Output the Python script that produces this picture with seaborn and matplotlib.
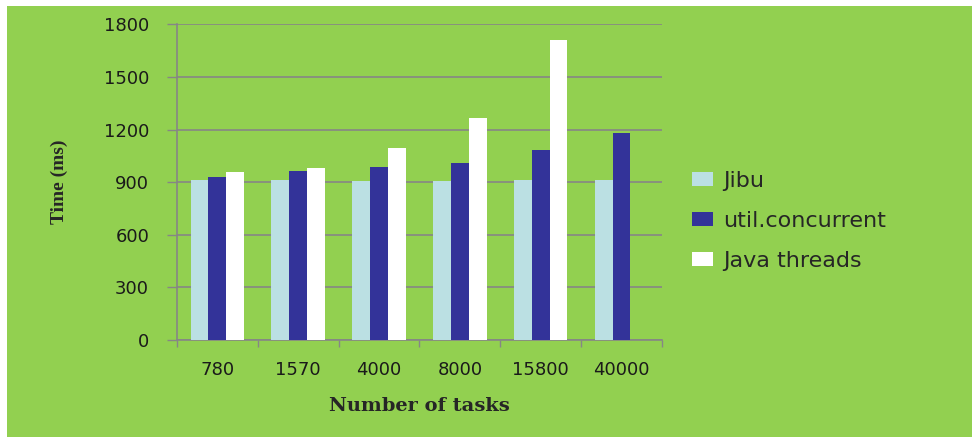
import numpy as np
import pandas as pd
import matplotlib
matplotlib.use("Agg")
import matplotlib.pyplot as plt
import seaborn as sns
from matplotlib.patches import Rectangle

tasks = ["780", "1570", "4000", "8000", "15800", "40000"]
jibu = [910, 910, 905, 905, 914, 914]
util_concurrent = [931, 962, 989, 1011, 1082, 1183]
java_threads = [956, 981, 1093, 1269, 1712, np.nan]

series = ["Jibu", "util.concurrent", "Java threads"]
colors = ["#BBE0E3", "#333399", "#FFFFFF"]


def main():
    df = pd.DataFrame({
        "tasks": tasks * 3,
        "series": [s for s in series for _ in tasks],
        "time": jibu + util_concurrent + java_threads,
    })

    sns.set_style("white")
    plt.rcParams["font.family"] = ["DejaVu Sans"]
    green = "#92D050"
    grid = "#868686"

    fig = plt.figure(figsize=(9.72, 4.37), dpi=100)
    fig.patch.set_facecolor("white")
    fig.patches.append(Rectangle((7 / 972, 0), 1, 1 - 6 / 437, transform=fig.transFigure,
                                 facecolor=green, edgecolor="none", zorder=-10))

    ax = fig.add_axes([0.182, 0.222, 0.499, 0.722])
    ax.set_facecolor(green)

    sns.barplot(data=df, x="tasks", y="time", hue="series", order=tasks,
                hue_order=series, palette=colors, width=0.66, linewidth=0,
                saturation=1, ax=ax, zorder=3)

    ax.set_ylim(0, 1800)
    ax.set_yticks(np.arange(0, 1801, 300))
    ax.set_xlim(-0.5, len(tasks) - 0.5)
    ax.yaxis.grid(True, color=grid, linewidth=1.2, zorder=0)
    ax.set_axisbelow(True)

    for side in ["top", "right"]:
        ax.spines[side].set_visible(False)
    for side in ["left", "bottom"]:
        ax.spines[side].set_color(grid)
        ax.spines[side].set_linewidth(1.2)

    ax.tick_params(axis="y", length=7, width=1, color=grid, pad=13,
                   labelsize=13, labelcolor="#1a1a1a", left=True)
    ax.tick_params(axis="x", which="major", length=0, pad=15,
                   labelsize=13, labelcolor="#1a1a1a")
    ax.set_xticks(np.arange(-0.5, len(tasks), 1), minor=True)
    ax.tick_params(axis="x", which="minor", length=5, width=1, color=grid, bottom=True)

    ax.set_ylabel("Time (ms)", family="Liberation Serif", fontweight="bold",
                  fontsize=14, labelpad=26)
    ax.set_xlabel("Number of tasks", family="DejaVu Serif", fontweight="bold",
                  fontsize=14, labelpad=13)

    ax.legend(title=None, frameon=False, fontsize=16, loc="center left",
              bbox_to_anchor=(1.02, 0.378), handlelength=0.95, handleheight=0.63,
              handletextpad=0.45, labelspacing=0.9)

    fig.savefig("out.png", dpi=100, facecolor=fig.get_facecolor())


if __name__ == "__main__":
    main()
